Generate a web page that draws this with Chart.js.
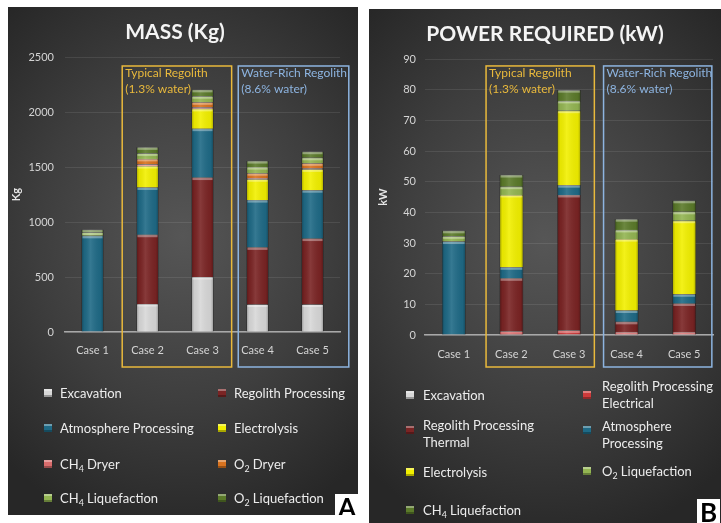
<!DOCTYPE html>
<html>
<head>
<meta charset="utf-8">
<script src="https://cdn.jsdelivr.net/npm/chart.js@4.4.1/dist/chart.umd.min.js"></script>
<style>
  body { margin: 0; width: 721px; height: 523px; background: #fff; position: relative; overflow: hidden; font-family: Lato, "Open Sans", sans-serif; }
  .panel { position: absolute; background: radial-gradient(ellipse 75% 60% at 50% 45%, #565656 0%, #3e3e3e 55%, #272727 100%); overflow: hidden; }
  .panel canvas { position: absolute; left: 0; top: 0; }
  .lg { position: absolute; color: #ececec; font-size: 13px; line-height: 17px; white-space: nowrap; }
  .lg sub { font-size: 0.68em; vertical-align: -0.3em; line-height: 0; }
  .mk { position: absolute; width: 8px; height: 8px; box-shadow: inset 0 2px 0 rgba(255,255,255,0.35), inset 0 -2px 0 rgba(0,0,0,0.3); }
  .tag { position: absolute; font-weight: 700; font-size: 26px; line-height: 26px; color: #000; background: #fff; padding: 0 3px; }
</style>
</head>
<body>
<div class="panel" id="panelA" style="left:8px;top:7px;width:350px;height:508px;">
  <canvas id="massChart" width="350" height="508"></canvas>
</div>
<div class="panel" id="panelB" style="left:369px;top:9px;width:352px;height:514px;">
  <canvas id="powerChart" width="352" height="514"></canvas>
</div>
<script>
// categories
const cases = ['Case 1', 'Case 2', 'Case 3', 'Case 4', 'Case 5'];

// MASS (Kg) per subsystem
const massExcavation   = [0, 255, 500, 250, 250];
const massRegolith     = [0, 630, 905, 520, 600];
const massAtmosphere   = [875, 430, 445, 430, 440];
const massElectrolysis = [0, 195, 180, 190, 190];
const massCH4Dryer     = [0, 15, 15, 10, 10];
const massO2Dryer      = [0, 50, 45, 45, 45];
const massCH4Liq       = [30, 50, 55, 55, 50];
const massO2Liq        = [25, 55, 58, 55, 55];

// POWER REQUIRED (kW) per subsystem
const powerExcavation   = [0, 0, 0, 0, 0];
const powerRegElec      = [0, 1.2, 1.5, 1.0, 1.0];
const powerRegThermal   = [0, 17.3, 44.2, 3.3, 9.3];
const powerAtmosphere   = [30.5, 3.6, 3.2, 3.7, 3.0];
const powerElectrolysis = [0, 23.6, 24.3, 23.3, 24.0];
const powerO2Liq        = [1.7, 2.7, 3.2, 3.0, 2.9];
const powerCH4Liq       = [1.8, 3.8, 3.5, 3.5, 3.6];

// tick labels
const massTicks = [0, 500, 1000, 1500, 2000, 2500];
const powerTicks = [0, 10, 20, 30, 40, 50, 60, 70, 80, 90];

const C = {
  excavation: '#d8d8d8',
  regolith: '#7a2424',
  regElec: '#cf3b3b',
  atmosphere: '#1f6a86',
  electrolysis: '#f2f000',
  ch4Dryer: '#d96c6c',
  o2Dryer: '#d9731f',
  lightGreen: '#93b552',
  darkGreen: '#5b7a2a'
};

// bevel look: shaded sides plus light cap on each segment
const bevelPlugin = {
  id: 'bevel',
  afterDatasetsDraw(chart) {
    const ctx = chart.ctx;
    chart.data.datasets.forEach((ds, i) => {
      const meta = chart.getDatasetMeta(i);
      meta.data.forEach((el, j) => {
        if (!ds.data[j]) return;
        const p = el.getProps(['x', 'y', 'base', 'width'], true);
        const left = p.x - p.width / 2;
        const top = Math.min(p.y, p.base);
        const h = Math.abs(p.base - p.y);
        const g = ctx.createLinearGradient(left, 0, left + p.width, 0);
        g.addColorStop(0, 'rgba(0,0,0,0.30)');
        g.addColorStop(0.12, 'rgba(0,0,0,0.05)');
        g.addColorStop(0.4, 'rgba(255,255,255,0.10)');
        g.addColorStop(0.88, 'rgba(0,0,0,0.05)');
        g.addColorStop(1, 'rgba(0,0,0,0.30)');
        ctx.save();
        ctx.fillStyle = g;
        ctx.fillRect(left, top, p.width, h);
        ctx.fillStyle = 'rgba(255,255,255,0.35)';
        ctx.fillRect(left + 1, top, p.width - 2, Math.min(2.5, h));
        ctx.restore();
      });
    });
  }
};

// outlined groups "Typical Regolith" / "Water-Rich Regolith"
const groupBoxPlugin = {
  id: 'groupBox',
  afterDraw(chart, args, opts) {
    const ctx = chart.ctx;
    const xs = chart.scales.x, ys = chart.scales.y;
    const step = xs.getPixelForValue(1) - xs.getPixelForValue(0);
    opts.boxes.forEach(b => {
      const x0 = xs.getPixelForValue(0) + b.from * step;
      const x1 = xs.getPixelForValue(0) + b.to * step;
      const y0 = ys.getPixelForValue(b.top);
      const y1 = chart.chartArea.bottom + opts.below;
      ctx.save();
      ctx.strokeStyle = b.color;
      ctx.lineWidth = 1.5;
      ctx.strokeRect(x0, y0, x1 - x0, y1 - y0);
      ctx.fillStyle = b.color;
      ctx.font = '12px Lato, "Open Sans", sans-serif';
      ctx.textBaseline = 'middle';
      b.lines.forEach((t, k) => ctx.fillText(t, x0 + 3, y0 + 7 + k * 16));
      ctx.restore();
    });
  }
};

function stackedOptions(title, titleSize, yTitle, yMax, ticks, axisW, tickPad, xPad, pad, boxes, below) {
  return {
    responsive: false,
    animation: false,
    layout: { padding: pad },
    plugins: {
      legend: { display: false },
      tooltip: { enabled: false },
      title: {
        display: true, text: title, color: '#f4f4f4',
        font: { family: 'Lato', size: titleSize, weight: 'bold' },
        padding: { top: 13, bottom: 12 }
      },
      groupBox: { boxes: boxes, below: below }
    },
    scales: {
      x: {
        stacked: true,
        grid: { display: false },
        border: { color: '#a8a8a8', width: 1.5 },
        ticks: { color: '#d4d4d4', font: { family: 'Lato', size: 11 }, padding: xPad },
        afterFit(s) { s.height = 30; }
      },
      y: {
        stacked: true,
        min: 0, max: yMax,
        afterBuildTicks(s) { s.ticks = ticks.map(v => ({ value: v })); },
        grid: { color: 'rgba(255,255,255,0.09)', drawTicks: false },
        border: { display: false },
        ticks: { color: '#d4d4d4', font: { family: 'Lato', size: 11 }, padding: tickPad, callback: v => String(v) },
        title: { display: true, text: yTitle, color: '#e6e6e6', font: { family: 'Lato', size: 11, weight: 'bold' }, padding: { top: 0, bottom: 0 } },
        afterFit(s) { s.width = axisW; }
      }
    }
  };
}

function ds(label, data, color, pct) {
  return { label: label, data: data, backgroundColor: color, borderColor: 'rgba(0,0,0,0.25)', borderWidth: 0.5, barPercentage: pct, categoryPercentage: 1 };
}

new Chart(document.getElementById('massChart'), {
  type: 'bar',
  data: {
    labels: cases,
    datasets: [
      ds('Excavation', massExcavation, C.excavation, 0.4),
      ds('Regolith Processing', massRegolith, C.regolith, 0.4),
      ds('Atmosphere Processing', massAtmosphere, C.atmosphere, 0.4),
      ds('Electrolysis', massElectrolysis, C.electrolysis, 0.4),
      ds('CH₄ Dryer', massCH4Dryer, C.ch4Dryer, 0.4),
      ds('O₂ Dryer', massO2Dryer, C.o2Dryer, 0.4),
      ds('CH₄ Liquefaction', massCH4Liq, C.lightGreen, 0.4),
      ds('O₂ Liquefaction', massO2Liq, C.darkGreen, 0.4)
    ]
  },
  options: stackedOptions('MASS (Kg)', 21, 'Kg', 2500, massTicks, 55, 11, 4,
    { left: 2, right: 18, top: 0, bottom: 153 },
    [
      { from: 0.54, to: 2.53, top: 2420, color: '#e9b93c', lines: ['Typical Regolith', '(1.3% water)'] },
      { from: 2.65, to: 4.66, top: 2420, color: '#8db4e0', lines: ['Water-Rich Regolith', '(8.6% water)'] }
    ], 35),
  plugins: [bevelPlugin, groupBoxPlugin]
});

new Chart(document.getElementById('powerChart'), {
  type: 'bar',
  data: {
    labels: cases,
    datasets: [
      ds('Excavation', powerExcavation, C.excavation, 0.41),
      ds('Regolith Processing Electrical', powerRegElec, C.regElec, 0.41),
      ds('Regolith Processing Thermal', powerRegThermal, C.regolith, 0.41),
      ds('Atmosphere Processing', powerAtmosphere, C.atmosphere, 0.41),
      ds('Electrolysis', powerElectrolysis, C.electrolysis, 0.41),
      ds('O₂ Liquefaction', powerO2Liq, C.lightGreen, 0.41),
      ds('CH₄ Liquefaction', powerCH4Liq, C.darkGreen, 0.41)
    ]
  },
  options: stackedOptions('POWER REQUIRED (kW)', 21, 'kW', 90, powerTicks, 48, 9, 5,
    { left: 8, right: 8, top: 0, bottom: 158 },
    [
      { from: 0.56, to: 2.44, top: 87.8, color: '#e9b93c', lines: ['Typical Regolith', '(1.3% water)'] },
      { from: 2.6, to: 4.48, top: 87.8, color: '#8db4e0', lines: ['Water-Rich Regolith', '(8.6% water)'] }
    ], 32),
  plugins: [bevelPlugin, groupBoxPlugin]
});

// legends (HTML, laid out in two columns like the original)
function addLegend(panelId, items) {
  const panel = document.getElementById(panelId);
  items.forEach(it => {
    const mk = document.createElement('div');
    mk.className = 'mk';
    mk.style.left = it.mx + 'px';
    mk.style.top = (it.my - 4) + 'px';
    mk.style.background = it.color;
    panel.appendChild(mk);
    const lg = document.createElement('div');
    lg.className = 'lg';
    lg.style.left = it.tx + 'px';
    lg.style.top = (it.ty - 8.5) + 'px';
    lg.innerHTML = it.html;
    panel.appendChild(lg);
  });
}

addLegend('panelA', [
  { html: 'Excavation', color: C.excavation, mx: 36, my: 386, tx: 52, ty: 386 },
  { html: 'Regolith Processing', color: C.regolith, mx: 210, my: 386, tx: 226, ty: 386 },
  { html: 'Atmosphere Processing', color: C.atmosphere, mx: 36, my: 421, tx: 52, ty: 421 },
  { html: 'Electrolysis', color: C.electrolysis, mx: 210, my: 421, tx: 226, ty: 421 },
  { html: 'CH<sub>4</sub> Dryer', color: C.ch4Dryer, mx: 36, my: 457, tx: 52, ty: 457 },
  { html: 'O<sub>2</sub> Dryer', color: C.o2Dryer, mx: 210, my: 457, tx: 226, ty: 457 },
  { html: 'CH<sub>4</sub> Liquefaction', color: C.lightGreen, mx: 36, my: 491, tx: 52, ty: 491 },
  { html: 'O<sub>2</sub> Liquefaction', color: C.darkGreen, mx: 210, my: 491, tx: 226, ty: 491 }
]);

addLegend('panelB', [
  { html: 'Excavation', color: C.excavation, mx: 37, my: 386, tx: 54, ty: 386 },
  { html: 'Regolith Processing<br>Electrical', color: C.regElec, mx: 214, my: 386, tx: 233, ty: 377 },
  { html: 'Regolith Processing<br>Thermal', color: C.regolith, mx: 37, my: 421, tx: 54, ty: 416 },
  { html: 'Atmosphere<br>Processing', color: C.atmosphere, mx: 214, my: 421, tx: 233, ty: 417 },
  { html: 'Electrolysis', color: C.electrolysis, mx: 37, my: 463, tx: 54, ty: 463 },
  { html: 'O<sub>2</sub> Liquefaction', color: C.lightGreen, mx: 214, my: 462, tx: 233, ty: 462 },
  { html: 'CH<sub>4</sub> Liquefaction', color: C.darkGreen, mx: 37, my: 501, tx: 54, ty: 501 }
]);

// panel letters
const tagA = document.createElement('div');
tagA.className = 'tag'; tagA.textContent = 'A';
tagA.style.left = '327px'; tagA.style.top = '487px';
document.getElementById('panelA').appendChild(tagA);
const tagB = document.createElement('div');
tagB.className = 'tag'; tagB.textContent = 'B';
tagB.style.left = '328px'; tagB.style.top = '490px';
document.getElementById('panelB').appendChild(tagB);
</script>
</body>
</html>
